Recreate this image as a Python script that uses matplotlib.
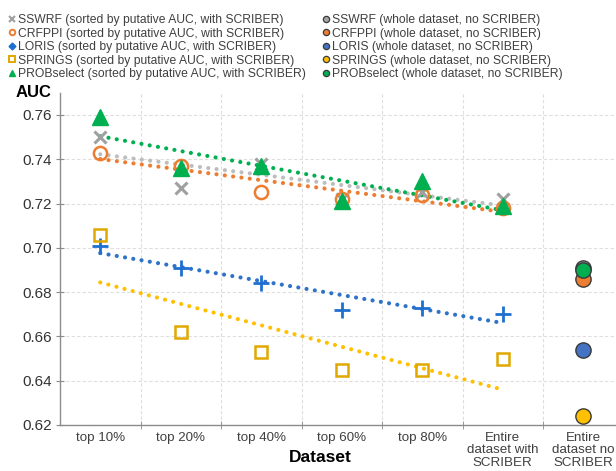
import numpy as np
import matplotlib
matplotlib.use("Agg")
import matplotlib.pyplot as plt
from matplotlib.lines import Line2D

plt.rcParams['font.family'] = ['Liberation Sans', 'DejaVu Sans']

# categories on the x axis
categories = ['top 10%', 'top 20%', 'top 40%', 'top 60%', 'top 80%',
              'Entire\ndataset with\nSCRIBER', 'Entire\ndataset no\nSCRIBER']

# sorted by putative AUC, with SCRIBER (first six categories)
sswrf = [0.750, 0.727, 0.738, 0.722, 0.725, 0.722]
crfppi = [0.743, 0.737, 0.725, 0.722, 0.724, 0.718]
loris = [0.701, 0.691, 0.684, 0.672, 0.673, 0.670]
springs = [0.706, 0.662, 0.653, 0.645, 0.645, 0.650]
probselect = [0.759, 0.736, 0.737, 0.721, 0.730, 0.719]

# whole dataset, no SCRIBER (last category)
sswrf_whole = 0.691
crfppi_whole = 0.686
loris_whole = 0.654
springs_whole = 0.624
probselect_whole = 0.690

names = ['SSWRF', 'CRFPPI', 'LORIS', 'SPRINGS', 'PROBselect']

fig = plt.figure(figsize=(6.16, 4.71), dpi=100)
W, H = 616.0, 471.0
ax = fig.add_axes([60 / W, 1 - 425 / H, 563.5 / W, (425 - 92.8) / H])

x = np.arange(len(sswrf))

# trendlines first (dotted), then markers on top
trend_cols = ['#BDBDBD', '#ED7D31', '#2E73C8', '#FFC000', '#00B050']
series = [sswrf, crfppi, loris, springs, probselect]
for vals, c in zip(series, trend_cols):
    k, b = np.polyfit(x, vals, 1)
    ax.plot(x, k * x + b, color=c, lw=3.0, linestyle=(0, (0.01, 2.0)),
            dash_capstyle='round', zorder=2)

ax.plot(x, sswrf, linestyle='none', marker='x', ms=9, mew=2.2, color='#A0A0A0', zorder=3)
ax.plot(x, crfppi, linestyle='none', marker='o', ms=9.5, mew=1.8, mfc='none',
        mec='#ED7D31', zorder=3)
ax.plot(x, loris, linestyle='none', marker='+', ms=11, mew=2.0, color='#1F6FD0', zorder=3)
ax.plot(x, springs, linestyle='none', marker='s', ms=8.5, mew=1.8, mfc='none',
        mec='#E0A800', zorder=3)
ax.plot(x, probselect, linestyle='none', marker='^', ms=11, color='#00B050', zorder=3)

# whole dataset points
whole_vals = [sswrf_whole, crfppi_whole, loris_whole, springs_whole, probselect_whole]
whole_cols = ['#A5A5A5', '#ED7D31', '#4472C4', '#FFC000', '#00B050']
for v, c in zip(whole_vals, whole_cols):
    ax.plot([6], [v], linestyle='none', marker='o', ms=11, mfc=c, mec='#3A3A3A',
            mew=1.0, zorder=4)

# axes styling
ax.set_xlim(-0.5, 6.5)
ax.set_ylim(0.62, 0.77)
ax.set_yticks(np.arange(0.62, 0.761, 0.02))
ax.set_yticklabels(['%.2f' % v for v in np.arange(0.62, 0.761, 0.02)])
ax.set_xticks(np.arange(len(categories)))
ax.set_xticklabels(categories, fontsize=9.6, color='#404040', linespacing=1.05)
ax.set_xticks(np.arange(0.5, 6.5, 1.0), minor=True)

ax.tick_params(axis='x', which='major', length=0, pad=5)
ax.tick_params(axis='x', which='minor', length=6, direction='inout', color='#8C8C8C')
ax.tick_params(axis='y', length=6, direction='inout', color='#8C8C8C',
               labelsize=11, labelcolor='#333333', pad=3)

ax.grid(axis='y', which='major', color='#DEDEDE', linestyle=(0, (3, 2)), lw=0.8)
ax.grid(axis='x', which='minor', color='#DEDEDE', linestyle=(0, (3, 2)), lw=0.8)
ax.set_axisbelow(True)

for s in ['top', 'right']:
    ax.spines[s].set_visible(False)
for s in ['left', 'bottom']:
    ax.spines[s].set_color('#8C8C8C')
    ax.spines[s].set_linewidth(1.0)

fig.text(34 / W, 1 - 92.5 / H, 'AUC', fontsize=12, fontweight='bold',
         ha='center', va='center')
fig.text(320 / W, 1 - 457 / H, 'Dataset', fontsize=12.5, fontweight='bold',
         ha='center', va='center')

# legend
handles = [
    Line2D([], [], linestyle='none', marker='x', ms=4, mew=1.5, color='#A0A0A0'),
    Line2D([], [], linestyle='none', marker='o', ms=4, mew=1.4, mfc='none', mec='#ED7D31'),
    Line2D([], [], linestyle='none', marker='D', ms=3.5, color='#1F6FD0'),
    Line2D([], [], linestyle='none', marker='s', ms=4, mew=1.4, mfc='none', mec='#E0A800'),
    Line2D([], [], linestyle='none', marker='^', ms=4.5, color='#00B050'),
]
for c in whole_cols:
    handles.append(Line2D([], [], linestyle='none', marker='o', ms=4.5, mfc=c,
                          mec='#3A3A3A', mew=0.9))
labels = [n + ' (sorted by putative AUC, with SCRIBER)' for n in names] + \
         [n + ' (whole dataset, no SCRIBER)' for n in names]

fig.legend(handles, labels, ncol=2, loc='upper left', bbox_to_anchor=(7 / W, 1 - 14 / H),
           frameon=False, fontsize=8.7, labelcolor='#404040', handlelength=0.8,
           handletextpad=0.1, columnspacing=1.3, labelspacing=0.13, borderpad=0,
           borderaxespad=0)

fig.savefig('out.png', dpi=100)
